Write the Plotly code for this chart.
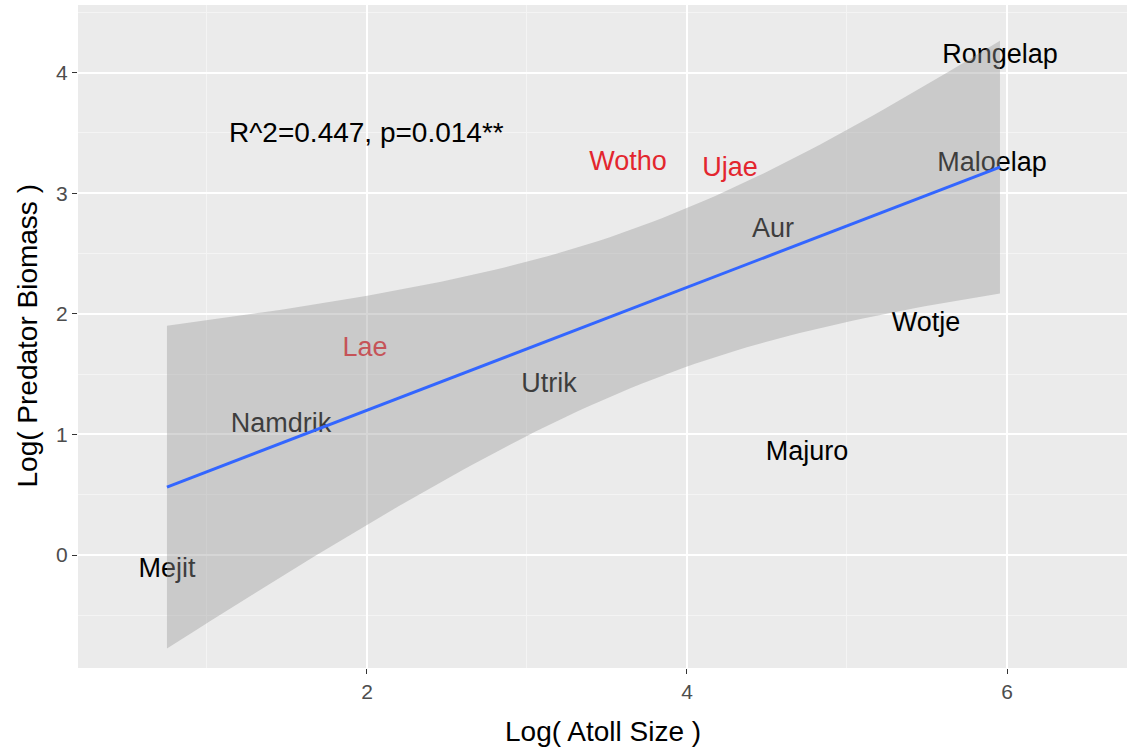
import numpy as np
import plotly.graph_objects as go

# Atoll data (log scale)
atolls = ["Mejit", "Namdrik", "Lae", "Utrik", "Wotho", "Ujae", "Aur",
          "Majuro", "Wotje", "Maloelap", "Rongelap"]
log_atoll_size = [0.75, 1.4625, 1.9875, 3.1375, 3.631, 4.269, 4.5375,
                  4.75, 5.494, 5.906, 5.956]
log_predator_biomass = [-0.13, 1.08, 1.71, 1.41, 3.25, 3.195, 2.69,
                        0.84, 1.91, 3.24, 4.14]
highlight = ["Lae", "Wotho", "Ujae"]

x_ticks = [2, 4, 6]
y_ticks = [0, 1, 2, 3, 4]
stat_label = "R^2=0.447, p=0.014**"

FONT = "Liberation Sans, Arial, sans-serif"
label_colors = ["#E3262E" if a in highlight else "#000000" for a in atolls]

# Linear fit with 95% confidence band (lm smoother)
x = np.array(log_atoll_size)
y = np.array(log_predator_biomass)
n = len(x)
slope, intercept = np.polyfit(x, y, 1)
resid = y - (intercept + slope * x)
s = np.sqrt(np.sum(resid ** 2) / (n - 2))
sxx = np.sum((x - x.mean()) ** 2)
t_crit = 2.262157  # t(0.975, df=9)
xs = np.linspace(x.min(), x.max(), 80)
fit = intercept + slope * xs
half = t_crit * s * np.sqrt(1.0 / n + (xs - x.mean()) ** 2 / sxx)
upper = fit + half
lower = fit - half

fig = go.Figure()

# Atoll names at their positions
fig.add_trace(go.Scatter(
    x=log_atoll_size, y=log_predator_biomass, text=atolls, mode="text",
    textposition="middle center",
    textfont=dict(family=FONT, size=27, color=label_colors),
    showlegend=False, hoverinfo="skip"))

# Confidence ribbon
fig.add_trace(go.Scatter(
    x=np.concatenate([xs, xs[::-1]]), y=np.concatenate([upper, lower[::-1]]),
    fill="toself", fillcolor="rgba(153,153,153,0.4)", line=dict(width=0),
    mode="lines", showlegend=False, hoverinfo="skip"))

# Fitted line
fig.add_trace(go.Scatter(
    x=xs, y=fit, mode="lines", line=dict(color="#3366FF", width=3),
    showlegend=False, hoverinfo="skip"))

fig.add_annotation(x=2.0, y=3.5, xref="x", yref="y", text=stat_label,
                   showarrow=False, font=dict(family=FONT, size=28, color="#000000"))

# Axis titles
fig.add_annotation(x=0.5, y=0, xref="paper", yref="paper", text="Log( Atoll Size )",
                   showarrow=False, yanchor="middle", yshift=-63,
                   font=dict(family=FONT, size=28, color="#000000"))
fig.add_annotation(x=0, y=0.5, xref="paper", yref="paper", text="Log( Predator Biomass )",
                   showarrow=False, textangle=-90, xanchor="center", xshift=-51,
                   font=dict(family=FONT, size=28, color="#000000"))

axis_common = dict(
    showgrid=True, gridcolor="#FFFFFF", gridwidth=1.6, zeroline=False,
    showline=False, ticks="outside", ticklen=5, tickwidth=1.2, tickcolor="#333333",
    tickfont=dict(family=FONT, size=21, color="#4D4D4D"),
)

fig.update_layout(
    width=1127, height=751,
    margin=dict(l=78, r=0, t=5, b=83),
    plot_bgcolor="#EBEBEB", paper_bgcolor="#FFFFFF",
    showlegend=False,
    xaxis=dict(range=[0.194, 6.75], tickvals=x_ticks,
               minor=dict(dtick=1, tick0=1, showgrid=True, gridcolor="#F4F4F4",
                          gridwidth=0.8, ticks=""),
               **axis_common),
    yaxis=dict(range=[-0.937, 4.561], tickvals=y_ticks,
               minor=dict(dtick=0.5, tick0=0.5, showgrid=True, gridcolor="#F4F4F4",
                          gridwidth=0.8, ticks=""),
               **axis_common),
)

fig.write_html("out.html")
